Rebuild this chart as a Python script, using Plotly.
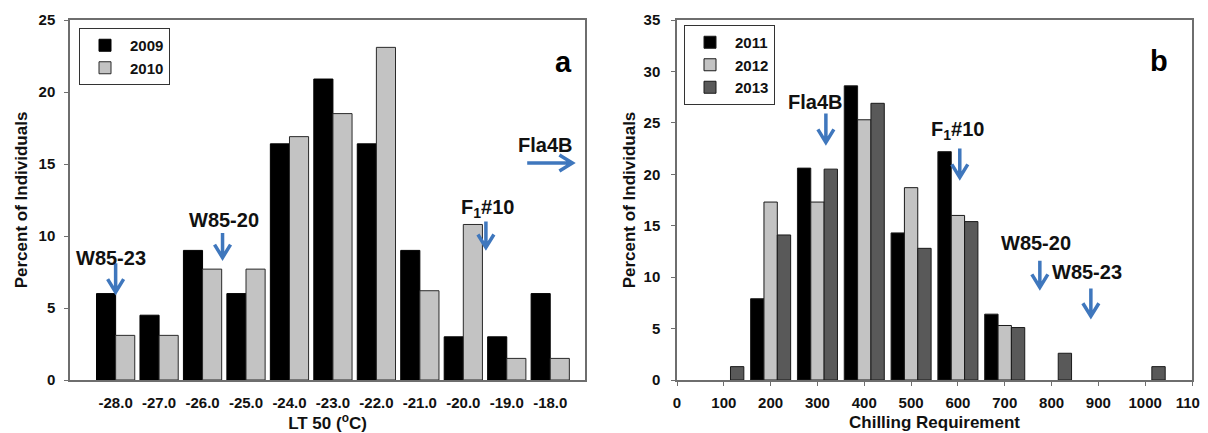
import plotly.graph_objects as go

# ---------------- data ----------------
lt50_bins = [-28, -27, -26, -25, -24, -23, -22, -21, -20, -19, -18]
lt50_ticktext = ["-28.0", "-27.0", "-26.0", "-25.0", "-24.0", "-23.0",
                 "-22.0", "-21.0", "-20.0", "-19.0", "-18.0"]
pct_2009 = [6.0, 4.5, 9.0, 6.0, 16.4, 20.9, 16.4, 9.0, 3.0, 3.0, 6.0]
pct_2010 = [3.1, 3.1, 7.7, 7.7, 16.9, 18.5, 23.1, 6.2, 10.8, 1.5, 1.5]

chill_bins = [100, 200, 300, 400, 500, 600, 700, 800, 900, 1000]
pct_2011 = [None, 7.9, 20.6, 28.6, 14.3, 22.2, 6.4, None, None, None]
pct_2012 = [None, 17.3, 17.3, 25.3, 18.7, 16.0, 5.3, None, None, None]
pct_2013 = [1.3, 14.1, 20.5, 26.9, 12.8, 15.4, 5.1, 2.6, None, 1.3]

# cultivar markers: (label, text x, text y, arrow x, arrow top y, arrow tip y)
markers_a = [
    ("W85-23", -28.1, 8.5, -28.0, 8.1, 6.1),
    ("W85-20", -25.5, 11.1, -25.54, 10.2, 8.5),
    ("F<sub>1</sub>#10", -19.45, 11.9, -19.48, 11.0, 9.2),
]
fla4b_a = ("Fla4B", -18.12, 16.3, -18.53, -17.49, 15.07)  # label, tx, ty, x0, x1(tip), y
markers_b = [
    ("Fla4B", 295, 27.0, 318, 25.9, 23.1),
    ("F<sub>1</sub>#10", 600, 24.3, 604, 22.5, 19.7),
    ("W85-20", 766, 13.3, 775, 11.6, 9.0),
    ("W85-23", 876, 10.5, 884, 8.9, 6.2),
]

# ---------------- layout geometry ----------------
# the page body adds an 8 px margin, so the figure is drawn 8 px in from the window corner
OFF = 8
W, H = 1208 - OFF, 433 - OFF
PL, PR, PT, PB = 70, 1192, 20, 380   # plot block edges in window pixels
ML, MR, MT, MB = PL - OFF, W - (PR - OFF), PT - OFF, H - (PB - OFF)
PW, PH = W - ML - MR, H - MT - MB
def px(x):
    return (x - PL) / PW
def py(y):
    return (PB - y) / PH

xa_range = [-29.05, -17.2]
ya_range = [0, 25]
xb_range = [0, 1100]
yb_range = [0, 35]
xa_dom = [px(70), px(585)]
xb_dom = [px(677), px(1192)]

FONT = "Liberation Sans, Arial, sans-serif"
BLUE = "#3f77bd"
AXC = "#6e6e6e"

fig = go.Figure()

# panel a bars
fig.add_trace(go.Bar(x=lt50_bins, y=pct_2009, name="2009", width=0.44, offset=-0.44,
                     marker=dict(color="#000000", line=dict(color="#000000", width=1)),
                     xaxis="x", yaxis="y", legend="legend"))
fig.add_trace(go.Bar(x=lt50_bins, y=pct_2010, name="2010", width=0.44, offset=0,
                     marker=dict(color="#c3c3c3", line=dict(color="#2a2a2a", width=1)),
                     xaxis="x", yaxis="y", legend="legend"))

# panel b bars
bw = 28.5
for name, vals, col, off in [("2011", pct_2011, "#000000", -1.5 * bw),
                             ("2012", pct_2012, "#c3c3c3", -0.5 * bw),
                             ("2013", pct_2013, "#595959", 0.5 * bw)]:
    fig.add_trace(go.Bar(x=chill_bins, y=vals, name=name, width=bw, offset=off,
                         marker=dict(color=col, line=dict(color="#1a1a1a", width=1)),
                         xaxis="x2", yaxis="y2", legend="legend2"))

tickfont = dict(family=FONT, size=15, color="#111", weight="bold")
titlefont = dict(family=FONT, size=17, color="#111", weight="bold")
axis_common = dict(showline=True, linecolor=AXC, linewidth=1.5, mirror=True,
                   showgrid=False, zeroline=False, tickfont=tickfont, automargin=False,
                   ticklabeloverflow="allow")

fig.update_layout(
    width=W, height=H,
    margin=dict(l=ML, r=MR, t=MT, b=MB),
    plot_bgcolor="white", paper_bgcolor="white",
    barmode="overlay",
    font=dict(family=FONT, color="#111"),
    xaxis=dict(domain=xa_dom, range=xa_range, tickvals=lt50_bins, ticktext=lt50_ticktext,
               ticks="", ticklabelstandoff=8, anchor="y",
               title=dict(text="LT 50 (<sup>o</sup>C)", font=titlefont, standoff=6),
               **axis_common),
    yaxis=dict(domain=[0, 1], range=ya_range, dtick=5, ticks="outside", ticklen=4,
               tickcolor=AXC, ticklabelstandoff=6, anchor="x",
               title=dict(text="Percent of Individuals", font=titlefont, standoff=7),
               **axis_common),
    xaxis2=dict(domain=xb_dom, range=xb_range, dtick=100, ticks="outside", ticklen=4,
                tickcolor=AXC, ticklabelstandoff=4, anchor="y2",
                title=dict(text="Chilling Requirement", font=titlefont, standoff=6),
                **axis_common),
    yaxis2=dict(domain=[0, 1], range=yb_range, dtick=5, ticks="outside", ticklen=4,
                tickcolor=AXC, ticklabelstandoff=8, anchor="x2",
                title=dict(text="Percent of Individuals", font=titlefont, standoff=4),
                **axis_common),
    legend=dict(x=px(79), y=py(28), xanchor="left", yanchor="top",
                bordercolor="#333", borderwidth=1, bgcolor="white", itemwidth=40,
                font=dict(family=FONT, size=15, color="#111", weight="bold")),
    legend2=dict(x=px(684), y=py(25), xanchor="left", yanchor="top",
                 bordercolor="#333", borderwidth=1, bgcolor="white", itemwidth=40,
                 font=dict(family=FONT, size=15, color="#111", weight="bold")),
)

# panel letters
fig.add_annotation(text="a", x=px(563), y=py(44), xref="paper", yref="paper",
                   showarrow=False, font=dict(family=FONT, size=29, color="#000", weight="bold"))
fig.add_annotation(text="b", x=px(1170), y=py(43), xref="paper", yref="paper",
                   showarrow=False, font=dict(family=FONT, size=29, color="#000", weight="bold"))

labfont = dict(family=FONT, size=20, color="#111", weight="bold")

def units_per_px(rng, dom, span):
    return (rng[1] - rng[0]) / ((dom[1] - dom[0]) * span)

uxa = units_per_px(xa_range, xa_dom, PW)
uya = units_per_px(ya_range, [0, 1], PH)
uxb = units_per_px(xb_range, xb_dom, PW)
uyb = units_per_px(yb_range, [0, 1], PH)

HW, HH = 8, 13  # arrow head half-width, depth (px)

def down_arrow(xr, yr, x, ytop, ytip, ux, uy):
    path = (f"M {x},{ytop} L {x},{ytip} "
            f"M {x - HW * ux},{ytip + HH * uy} L {x},{ytip} L {x + HW * ux},{ytip + HH * uy}")
    fig.add_shape(type="path", path=path, xref=xr, yref=yr,
                  line=dict(color=BLUE, width=3.5))

for lab, tx, ty, ax, ay0, ay1 in markers_a:
    fig.add_annotation(text=lab, x=tx, y=ty, xref="x", yref="y", showarrow=False, font=labfont)
    down_arrow("x", "y", ax, ay0, ay1, uxa, uya)

lab, tx, ty, x0, x1, yy = fla4b_a
fig.add_annotation(text=lab, x=tx, y=ty, xref="x", yref="y", showarrow=False, font=labfont)
fig.add_shape(type="path", xref="x", yref="y", line=dict(color=BLUE, width=3.5),
              path=(f"M {x0},{yy} L {x1},{yy} "
                    f"M {x1 - HH * uxa},{yy + HW * uya} L {x1},{yy} L {x1 - HH * uxa},{yy - HW * uya}"))

for lab, tx, ty, ax, ay0, ay1 in markers_b:
    fig.add_annotation(text=lab, x=tx, y=ty, xref="x2", yref="y2", showarrow=False, font=labfont)
    down_arrow("x2", "y2", ax, ay0, ay1, uxb, uyb)

fig.write_html("out.html")
